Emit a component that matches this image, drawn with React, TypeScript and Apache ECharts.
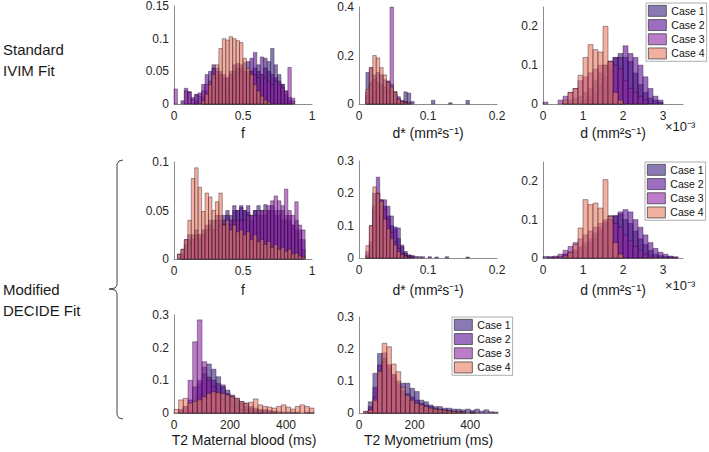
import React, { useEffect, useRef } from 'react';
import * as echarts from 'echarts';

const FONT = "'Liberation Sans', Arial, Helvetica, sans-serif";

const cases = ['Case 1', 'Case 2', 'Case 3', 'Case 4'];
const barColors = ['rgba(60,33,130,0.6)', 'rgba(90,13,150,0.6)', 'rgba(142,38,165,0.6)', 'rgba(232,123,97,0.6)'];
const legendColors = ['#8a7ab4', '#9c6ec0', '#bb7dc9', '#f1b0a0'];
const edgeColor = 'rgba(30,10,30,0.65)';

// ---- Standard IVIM fit: f (bin 0.025) ----
const fStdBin = 0.025;
const fStdCase1 = [0,0,0,0,0,0,0.005,0,0.01,0.02,0.03,0.06,0.05,0.045,0.04,0.035,0.045,0.05,0.055,0.06,0.05,0.065,0.05,0.055,0.06,0.045,0.07,0.065,0.085,0.06,0.045,0.03,0.015,0.005];
const fStdCase2 = [0,0,0.005,0.024,0.019,0.01,0.015,0.017,0.03,0.045,0.05,0.055,0.055,0.05,0.045,0.04,0.05,0.06,0.062,0.055,0.063,0.05,0.07,0.079,0.05,0.072,0.055,0.05,0.045,0.04,0.035,0.03,0.02,0.01,0.005];
const fStdCase3 = [0.023,0,0,0.02,0.018,0.007,0.014,0.012,0.02,0.03,0.035,0.04,0.04,0.045,0.04,0.04,0.045,0.04,0.045,0.05,0.045,0.04,0.05,0.045,0.04,0.045,0.04,0.035,0.03,0.035,0.03,0.025,0.02,0.056,0.009];
const fStdCase4 = [0,0,0,0,0,0,0,0,0.005,0.015,0.03,0.045,0.06,0.085,0.1,0.098,0.103,0.1,0.097,0.094,0.07,0.055,0.045,0.03,0.02,0.012,0.006,0.003];

// ---- Standard IVIM fit: d* (bin 0.005) ----
const dsStdBin = 0.005;
const dsStdCase1 = [0,0,0.13,0.09,0.1,0.09,0.08,0.07,0.095,0.06,0.05,0.02,0.01,0.05,0.045,0.01,0,0,0,0,0,0.015,0,0,0,0,0.005,0,0,0,0,0.015];
const dsStdCase2 = [0,0,0.05,0.15,0.12,0.13,0.12,0.1,0.09,0.08,0.05,0.03,0.015,0.01,0.005];
const dsStdCase3 = [0,0,0.03,0.08,0.1,0.08,0.06,0.05,0.05,0.4,0.04,0.02,0.01];
const dsStdCase4 = [0,0,0.06,0.15,0.2,0.19,0.15,0.12,0.09,0.07,0.05,0.02,0.01,0.005,0.005];

// ---- Standard IVIM fit: d x1e-3 (bin 0.125) ----
const dStdBin = 0.125;
const dStdCase1 = [0,0,0,0,0.005,0.01,0.015,0.02,0.03,0.04,0.06,0.08,0.1,0.11,0.12,0.13,0.12,0.11,0.08,0.05,0.03,0.015,0.01,0.005];
const dStdCase2 = [0,0,0,0,0,0,0,0,0.01,0.02,0.03,0.05,0.07,0.09,0.12,0.12,0.15,0.13,0.12,0.1,0.07,0.04,0.02,0.01];
const dStdCase3 = [0.005,0,0,0.01,0.02,0.03,0.04,0.06,0.07,0.08,0.09,0.1,0.1,0.11,0.1,0.09,0.06,0.04,0.03,0.02,0.01];
const dStdCase4 = [0,0,0,0,0.01,0.03,0.04,0.074,0.12,0.153,0.14,0.134,0.2,0.11,0.03,0.01];

// ---- Modified DECIDE fit: f (bin 0.025) ----
const fModBin = 0.025;
const fModCase1 = [0,0,0.005,0.015,0.02,0.025,0.03,0.025,0.03,0.035,0.04,0.04,0.045,0.04,0.045,0.05,0.045,0.05,0.05,0.055,0.05,0.048,0.045,0.05,0.055,0.045,0.056,0.05,0.05,0.045,0.05,0.04,0.045,0.04,0.035,0.03,0.02,0.01];
const fModCase2 = [0,0.005,0.01,0.02,0.025,0.02,0.025,0.02,0.025,0.03,0.035,0.03,0.04,0.045,0.04,0.045,0.04,0.055,0.05,0.053,0.05,0.055,0.04,0.05,0.045,0.05,0.045,0.05,0.055,0.05,0.045,0.05,0.04,0.045,0.035,0.04,0.03,0.02];
const fModCase3 = [0,0,0.005,0.01,0.015,0.02,0.02,0.025,0.025,0.03,0.03,0.03,0.03,0.035,0.035,0.035,0.035,0.04,0.04,0.04,0.04,0.045,0.045,0.045,0.05,0.05,0.05,0.055,0.06,0.065,0.06,0.055,0.072,0.05,0.045,0.059,0.035,0.03];
const fModCase4 = [0,0.005,0.01,0.02,0.04,0.083,0.094,0.074,0.049,0.068,0.064,0.05,0.059,0.068,0.035,0.04,0.03,0.035,0.028,0.03,0.025,0.028,0.02,0.025,0.018,0.02,0.015,0.018,0.012,0.015,0.01,0.012,0.008,0.01,0.005,0.006,0.003,0.002];

// ---- Modified DECIDE fit: d* (bin 0.005) ----
const dsModBin = 0.005;
const dsModCase1 = [0,0,0.01,0.05,0.2,0.2,0.18,0.16,0.13,0.1,0.09,0.06,0.035,0.02,0.01,0.008,0.005,0,0.004,0,0.004,0,0,0,0,0.004,0,0,0,0,0,0.003];
const dsModCase2 = [0,0,0.005,0.04,0.15,0.25,0.16,0.18,0.16,0.13,0.096,0.093,0.04,0.015,0.008,0.005,0,0.004,0,0,0,0,0.003];
const dsModCase3 = [0,0,0.02,0.1,0.16,0.2,0.18,0.15,0.12,0.08,0.05,0.03,0.015,0.008,0.004];
const dsModCase4 = [0,0,0.038,0.1,0.22,0.2,0.175,0.12,0.09,0.06,0.04,0.02,0.01,0.005];

// ---- Modified DECIDE fit: d x1e-3 (bin 0.125) ----
const dModBin = 0.125;
const dModCase1 = [0,0,0,0.005,0.01,0.015,0.02,0.03,0.04,0.05,0.065,0.08,0.095,0.11,0.11,0.115,0.1,0.09,0.07,0.05,0.035,0.02,0.01,0.006,0.004,0.003,0.002];
const dModCase2 = [0.004,0.003,0.003,0,0.01,0.015,0.02,0.025,0.03,0.04,0.05,0.07,0.09,0.1,0.11,0.12,0.126,0.12,0.1,0.08,0.06,0.04,0.025,0.015,0.01,0.005,0.003];
const dModCase3 = [0,0.003,0.005,0.01,0.02,0.03,0.04,0.05,0.06,0.07,0.08,0.09,0.1,0.1,0.09,0.08,0.06,0.045,0.03,0.02,0.01,0.005];
const dModCase4 = [0,0,0,0,0.005,0.015,0.035,0.078,0.152,0.139,0.143,0.13,0.204,0.109,0.04,0.01];

// ---- Modified DECIDE fit: T2 maternal blood (bin 500/30 ms) ----
const t2bBin = 500 / 30;
const t2bCase1 = [0,0,0,0.01,0.03,0.09,0.14,0.15,0.134,0.111,0.086,0.07,0.055,0.045,0.035,0.03,0.02,0.015,0.01,0.01,0.008,0.005,0.004,0,0.003,0,0.003,0,0.002,0.002];
const t2bCase2 = [0,0.01,0.02,0.04,0.08,0.1,0.12,0.11,0.1,0.09,0.08,0.06,0.05,0.04,0.03,0.02,0.015,0.01,0.01,0.008,0.005,0.005,0,0.003,0,0.003];
const t2bCase3 = [0,0.01,0.02,0.1,0.218,0.285,0.157,0.1,0.08,0.06,0.04,0.03,0.02,0.015,0.01,0.008,0.005,0.004,0.003];
const t2bCase4 = [0.011,0.04,0.045,0.03,0.035,0.04,0.05,0.06,0.065,0.063,0.06,0.055,0.05,0.045,0.035,0.03,0.033,0.043,0.025,0.02,0.018,0.015,0.02,0.025,0.018,0.012,0.02,0.025,0.02,0.015];

// ---- Modified DECIDE fit: T2 myometrium (bin 500/30 ms) ----
const t2mBin = 500 / 30;
const t2mCase1 = [0,0.005,0.035,0.124,0.186,0.188,0.15,0.12,0.1,0.093,0.093,0.077,0.067,0.04,0.035,0.025,0.02,0.02,0.015,0.015,0.012,0.012,0.01,0.012,0.008,0.012,0.006,0.01,0.004,0.003];
const t2mCase2 = [0,0,0.02,0.08,0.15,0.17,0.14,0.11,0.09,0.07,0.06,0.05,0.04,0.03,0.025,0.02,0.015,0.012,0.01,0.008,0.006,0.005,0.004,0,0.003];
const t2mCase3 = [0,0,0.01,0.05,0.12,0.16,0.15,0.12,0.09,0.06,0.04,0.03,0.02,0.015,0.01,0.008,0.006,0.004,0.003];
const t2mCase4 = [0,0.005,0.01,0.04,0.13,0.218,0.207,0.153,0.129,0.08,0.055,0.04,0.03,0.025,0.02,0.015,0.012,0.01,0.008,0.006,0.005,0.004,0.003,0,0.002];

// tick labels
const fTicks = [0, 0.5, 1];
const dsTicks = [0, 0.1, 0.2];
const dTicks = [0, 1, 2, 3];
const t2Ticks = [0, 200, 400];

const panels = [
  { left: 174, top: 5, width: 138, height: 99, xMax: 1, xInt: 0.5, xTicks: fTicks, yMax: 0.15, yInt: 0.05, yTicks: [0, 0.05, 0.1, 0.15], name: 'f', gap: 22, bin: fStdBin, vals: [fStdCase1, fStdCase2, fStdCase3, fStdCase4] },
  { left: 359, top: 7, width: 138, height: 97, xMax: 0.2, xInt: 0.1, xTicks: dsTicks, yMax: 0.4, yInt: 0.2, yTicks: [0, 0.2, 0.4], name: 'd* (mm²s⁻¹)', gap: 22, bin: dsStdBin, vals: [dsStdCase1, dsStdCase2, dsStdCase3, dsStdCase4] },
  { left: 543, top: 7, width: 140, height: 97, xMax: 3.5, xInt: 1, xTicks: dTicks, yMax: 0.25, yInt: 0.1, yTicks: [0, 0.1, 0.2], name: 'd (mm²s⁻¹)', gap: 22, bin: dStdBin, vals: [dStdCase1, dStdCase2, dStdCase3, dStdCase4] },
  { left: 174, top: 162, width: 138, height: 97, xMax: 1, xInt: 0.5, xTicks: fTicks, yMax: 0.1, yInt: 0.05, yTicks: [0, 0.05, 0.1], name: 'f', gap: 24, bin: fModBin, vals: [fModCase1, fModCase2, fModCase3, fModCase4] },
  { left: 359, top: 161, width: 138, height: 97, xMax: 0.2, xInt: 0.1, xTicks: dsTicks, yMax: 0.3, yInt: 0.1, yTicks: [0, 0.1, 0.2, 0.3], name: 'd* (mm²s⁻¹)', gap: 25, bin: dsModBin, vals: [dsModCase1, dsModCase2, dsModCase3, dsModCase4] },
  { left: 543, top: 162, width: 140, height: 96, xMax: 3.5, xInt: 1, xTicks: dTicks, yMax: 0.25, yInt: 0.1, yTicks: [0, 0.1, 0.2], name: 'd (mm²s⁻¹)', gap: 25, bin: dModBin, vals: [dModCase1, dModCase2, dModCase3, dModCase4] },
  { left: 174, top: 315, width: 140, height: 98, xMax: 500, xInt: 100, xTicks: t2Ticks, yMax: 0.3, yInt: 0.1, yTicks: [0, 0.1, 0.2, 0.3], name: 'T2 Maternal blood (ms)', gap: 20, bin: t2bBin, vals: [t2bCase1, t2bCase2, t2bCase3, t2bCase4] },
  { left: 359, top: 317, width: 139, height: 96, xMax: 500, xInt: 100, xTicks: t2Ticks, yMax: 0.3, yInt: 0.1, yTicks: [0, 0.1, 0.2, 0.3], name: 'T2 Myometrium (ms)', gap: 20, bin: t2mBin, vals: [t2mCase1, t2mCase2, t2mCase3, t2mCase4] },
];

const legendPlaces = [
  { left: 646, top: 3 },
  { left: 645, top: 162 },
  { left: 452, top: 317 },
];

function tickFormatter(ticks: number[]) {
  return (v: number) => {
    const t = ticks.find((x) => Math.abs(x - v) < 1e-9);
    return t === undefined ? '' : String(t);
  };
}

export default function App() {
  const ref = useRef<HTMLDivElement>(null);
  useEffect(() => {
    const chart = echarts.init(ref.current!, undefined, { renderer: 'svg', width: 709, height: 452 });
    const grid: any[] = [];
    const xAxis: any[] = [];
    const yAxis: any[] = [];
    const series: any[] = [];
    panels.forEach((p, i) => {
      grid.push({ left: p.left, top: p.top, width: p.width, height: p.height });
      xAxis.push({
        type: 'value', gridIndex: i, min: 0, max: p.xMax, interval: p.xInt,
        name: p.name, nameLocation: 'middle', nameGap: p.gap,
        nameTextStyle: { fontSize: 14, color: '#1a1a1a', fontFamily: FONT },
        axisLine: { show: true, onZero: false, lineStyle: { color: '#8c8c8c', width: 1 } },
        axisTick: { show: false }, splitLine: { show: false },
        axisLabel: { fontSize: 12, color: '#262626', margin: 6, fontFamily: FONT, formatter: tickFormatter(p.xTicks) },
      });
      yAxis.push({
        type: 'value', gridIndex: i, min: 0, max: p.yMax, interval: p.yInt,
        axisLine: { show: true, onZero: false, lineStyle: { color: '#8c8c8c', width: 1 } },
        axisTick: { show: false }, splitLine: { show: false },
        axisLabel: { fontSize: 12, color: '#262626', margin: 5, fontFamily: FONT, formatter: tickFormatter(p.yTicks) },
      });
      p.vals.forEach((vals, k) => {
        const data = vals
          .map((v, j) => [j * p.bin, (j + 1) * p.bin, v])
          .filter((d) => d[2] > 0);
        series.push({
          type: 'custom', name: cases[k], xAxisIndex: i, yAxisIndex: i,
          encode: { x: [0, 1], y: 2 },
          itemStyle: { color: legendColors[k] },
          data,
          renderItem: (params: any, api: any) => {
            const p0 = api.coord([api.value(0), 0]);
            const p1 = api.coord([api.value(1), api.value(2)]);
            return {
              type: 'rect',
              shape: { x: p0[0], y: p1[1], width: p1[0] - p0[0], height: p0[1] - p1[1] },
              style: { fill: barColors[k], stroke: edgeColor, lineWidth: 0.6 },
            };
          },
        });
      });
    });

    const legend = legendPlaces.map((l) => ({
      left: l.left, top: l.top, orient: 'vertical',
      data: cases.map((c, k) => ({ name: c, itemStyle: { color: legendColors[k], borderColor: '#333', borderWidth: 0.7 } })),
      icon: 'rect', itemWidth: 18, itemHeight: 11, itemGap: 2.5,
      padding: [2, 2, 2, 2], borderColor: '#999', borderWidth: 0.8, backgroundColor: '#fff',
      selectedMode: false,
      textStyle: { fontSize: 10.5, color: '#111', fontFamily: FONT },
    }));

    const textStyle = { fill: '#1a1a1a', fontSize: 15, fontFamily: FONT, lineHeight: 21 };
    const graphic: any[] = [
      { type: 'text', left: 3, top: 39, style: { ...textStyle, text: 'Standard\nIVIM Fit' } },
      { type: 'text', left: 3, top: 279, style: { ...textStyle, text: 'Modified\nDECIDE Fit' } },
      { type: 'text', left: 665, top: 120, style: { fill: '#1a1a1a', fontSize: 13, fontFamily: FONT, text: '×10⁻³' } },
      { type: 'text', left: 665, top: 279, style: { fill: '#1a1a1a', fontSize: 13, fontFamily: FONT, text: '×10⁻³' } },
      {
        type: 'polyline',
        shape: { points: [[123, 160], [119, 161], [117, 164], [117, 285], [115, 288], [109, 289], [115, 290], [117, 293], [117, 415], [119, 418], [123, 419]] },
        style: { stroke: '#444', lineWidth: 1, fill: 'none' },
      },
    ];

    chart.setOption({
      animation: false,
      backgroundColor: '#fff',
      textStyle: { fontFamily: FONT },
      grid, xAxis, yAxis, series, legend, graphic,
    });
    return () => chart.dispose();
  }, []);
  return <div ref={ref} style={{ position: 'fixed', left: 0, top: 0, width: 709, height: 452 }} />;
}
